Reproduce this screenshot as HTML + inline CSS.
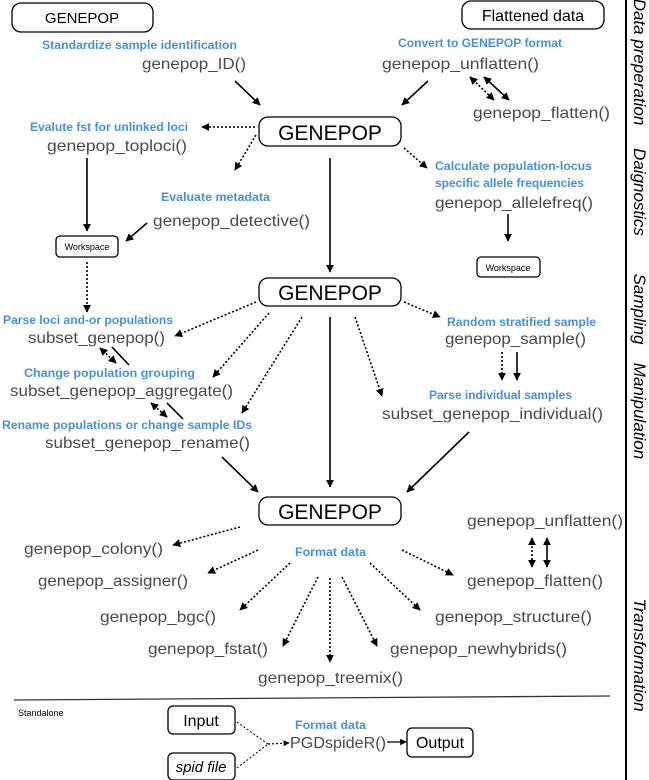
<!DOCTYPE html>
<html><head><meta charset="utf-8"><style>
html,body{margin:0;padding:0;background:#fff}
svg{display:block}
.g{font-family:"Liberation Sans",sans-serif;font-size:16px;fill:#4a4a4a}
.b{font-family:"Liberation Sans",sans-serif;font-size:12px;font-weight:bold;fill:#4a90d9}
.bx{fill:#fff;stroke:#000;stroke-width:1.3}
.k{font-family:"Liberation Sans",sans-serif;fill:#000}
.s{stroke:#000;stroke-width:1.6;fill:none}
.d{stroke:#000;stroke-width:1.6;fill:none;stroke-dasharray:2 2}
.r{font-family:"Liberation Sans",sans-serif;font-style:italic;font-size:17px;fill:#000}
</style></head><body>
<svg width="649" height="780" viewBox="0 0 649 780">
<defs>
<marker id="a" viewBox="0 0 10 10" refX="9" refY="5" markerWidth="5" markerHeight="5" orient="auto-start-reverse"><path d="M0,0L10,5L0,10z" fill="#000"/></marker>
</defs>
<!-- boxes -->
<g><rect class="bx" x="12" y="3" width="141" height="29" rx="9"/><text class="k" x="82" y="23" font-size="15" text-anchor="middle">GENEPOP</text></g>
<g><rect class="bx" x="462" y="1" width="142" height="28" rx="9"/><text class="k" x="533" y="21" font-size="16" text-anchor="middle">Flattened data</text></g>
<g><rect class="bx" x="259" y="117" width="142" height="29" rx="9"/><text class="k" x="330" y="140" font-size="21" text-anchor="middle">GENEPOP</text></g>
<g><rect class="bx" x="259" y="278" width="142" height="28" rx="9"/><text class="k" x="330" y="300" font-size="21" text-anchor="middle">GENEPOP</text></g>
<g><rect class="bx" x="259" y="497" width="142" height="28" rx="9"/><text class="k" x="330" y="519" font-size="21" text-anchor="middle">GENEPOP</text></g>
<g><rect class="bx" x="56" y="236" width="62" height="21" rx="4"/><text class="k" x="87" y="250" font-size="9" text-anchor="middle">Workspace</text></g>
<g><rect class="bx" x="477" y="257" width="63" height="20" rx="4"/><text class="k" x="508" y="271" font-size="9" text-anchor="middle">Workspace</text></g>
<g><rect class="bx" x="168" y="706" width="67" height="28" rx="5"/><text class="k" x="201" y="726" font-size="16" text-anchor="middle">Input</text></g>
<g><rect class="bx" x="168" y="753" width="67" height="27" rx="5"/><text class="k" x="201" y="772" font-size="15" font-style="italic" text-anchor="middle">spid file</text></g>
<g><rect class="bx" x="407" y="728" width="66" height="29" rx="5"/><text class="k" x="440" y="748" font-size="16" text-anchor="middle">Output</text></g>

<!-- blue labels -->
<text class="b" x="42" y="49" textLength="195" lengthAdjust="spacingAndGlyphs">Standardize sample identification</text>
<text class="b" x="398" y="47" textLength="164" lengthAdjust="spacingAndGlyphs">Convert to GENEPOP format</text>
<text class="b" x="30" y="131" textLength="158" lengthAdjust="spacingAndGlyphs">Evalute fst for unlinked loci</text>
<text class="b" x="161" y="201" textLength="109" lengthAdjust="spacingAndGlyphs">Evaluate metadata</text>
<text class="b" x="435" y="170" textLength="157" lengthAdjust="spacingAndGlyphs">Calculate population-locus</text>
<text class="b" x="435" y="187" textLength="149" lengthAdjust="spacingAndGlyphs">specific allele frequencies</text>
<text class="b" x="3" y="324" textLength="170" lengthAdjust="spacingAndGlyphs">Parse loci and-or populations</text>
<text class="b" x="24" y="377" textLength="171" lengthAdjust="spacingAndGlyphs">Change population grouping</text>
<text class="b" x="2" y="429" textLength="250" lengthAdjust="spacingAndGlyphs">Rename populations or change sample IDs</text>
<text class="b" x="447" y="326" textLength="149" lengthAdjust="spacingAndGlyphs">Random stratified sample</text>
<text class="b" x="429" y="399" textLength="143" lengthAdjust="spacingAndGlyphs">Parse individual samples</text>
<text class="b" x="295" y="556" textLength="71" lengthAdjust="spacingAndGlyphs">Format data</text>
<text class="b" x="295" y="729" textLength="71" lengthAdjust="spacingAndGlyphs">Format data</text>

<!-- gray function names -->
<text class="g" x="142" y="69" textLength="104" lengthAdjust="spacingAndGlyphs">genepop_ID()</text>
<text class="g" x="382" y="69" textLength="157" lengthAdjust="spacingAndGlyphs">genepop_unflatten()</text>
<text class="g" x="473" y="118" textLength="137" lengthAdjust="spacingAndGlyphs">genepop_flatten()</text>
<text class="g" x="47" y="151" textLength="140" lengthAdjust="spacingAndGlyphs">genepop_toploci()</text>
<text class="g" x="153" y="226" textLength="157" lengthAdjust="spacingAndGlyphs">genepop_detective()</text>
<text class="g" x="435" y="208" textLength="158" lengthAdjust="spacingAndGlyphs">genepop_allelefreq()</text>
<text class="g" x="28" y="343" textLength="137" lengthAdjust="spacingAndGlyphs">subset_genepop()</text>
<text class="g" x="10" y="396" textLength="223" lengthAdjust="spacingAndGlyphs">subset_genepop_aggregate()</text>
<text class="g" x="45" y="448" textLength="205" lengthAdjust="spacingAndGlyphs">subset_genepop_rename()</text>
<text class="g" x="445" y="344" textLength="141" lengthAdjust="spacingAndGlyphs">genepop_sample()</text>
<text class="g" x="382" y="419" textLength="221" lengthAdjust="spacingAndGlyphs">subset_genepop_individual()</text>
<text class="g" x="467" y="526" textLength="156" lengthAdjust="spacingAndGlyphs">genepop_unflatten()</text>
<text class="g" x="467" y="586" textLength="136" lengthAdjust="spacingAndGlyphs">genepop_flatten()</text>
<text class="g" x="24" y="554" textLength="139" lengthAdjust="spacingAndGlyphs">genepop_colony()</text>
<text class="g" x="38" y="586" textLength="150" lengthAdjust="spacingAndGlyphs">genepop_assigner()</text>
<text class="g" x="100" y="622" textLength="116" lengthAdjust="spacingAndGlyphs">genepop_bgc()</text>
<text class="g" x="148" y="654" textLength="120" lengthAdjust="spacingAndGlyphs">genepop_fstat()</text>
<text class="g" x="258" y="683" textLength="145" lengthAdjust="spacingAndGlyphs">genepop_treemix()</text>
<text class="g" x="390" y="654" textLength="177" lengthAdjust="spacingAndGlyphs">genepop_newhybrids()</text>
<text class="g" x="435" y="622" textLength="157" lengthAdjust="spacingAndGlyphs">genepop_structure()</text>
<text class="g" x="290" y="748" textLength="96" lengthAdjust="spacingAndGlyphs">PGDspideR()</text>
<text class="k" x="18" y="716" font-size="9">Standalone</text>

<!-- arrows -->
<g>
<line class="s" x1="235" y1="81" x2="260" y2="105" marker-end="url(#a)"/>
<line class="s" x1="428" y1="81" x2="402" y2="105" marker-end="url(#a)"/>
<line class="d" x1="470" y1="77" x2="494" y2="100" marker-start="url(#a)" marker-end="url(#a)"/>
<line class="s" x1="484" y1="77" x2="509" y2="100" marker-start="url(#a)" marker-end="url(#a)"/>
<line class="d" x1="255" y1="127" x2="202" y2="127" marker-end="url(#a)"/>
<line class="s" x1="87" y1="158" x2="87" y2="231" marker-end="url(#a)"/>
<line class="d" x1="256" y1="135" x2="235" y2="170" marker-end="url(#a)"/>
<line class="s" x1="147" y1="223" x2="126" y2="241" marker-end="url(#a)"/>
<line class="s" x1="330" y1="158" x2="330" y2="272" marker-end="url(#a)"/>
<line class="d" x1="404" y1="148" x2="427" y2="168" marker-end="url(#a)"/>
<line class="s" x1="508" y1="214" x2="508" y2="241" marker-end="url(#a)"/>
<line class="d" x1="87" y1="262" x2="87" y2="312" marker-end="url(#a)"/>
<line class="d" x1="256" y1="302" x2="175" y2="336" marker-end="url(#a)"/>
<line class="d" x1="100" y1="348" x2="116" y2="363" marker-start="url(#a)" marker-end="url(#a)"/>
<line class="s" x1="112" y1="347" x2="129" y2="365"/>
<line class="d" x1="269" y1="313" x2="213" y2="377" marker-end="url(#a)"/>
<line class="d" x1="151" y1="403" x2="167" y2="417" marker-start="url(#a)" marker-end="url(#a)"/>
<line class="s" x1="167" y1="403" x2="183" y2="419"/>
<line class="d" x1="302" y1="317" x2="242" y2="413" marker-end="url(#a)"/>
<line class="d" x1="355" y1="317" x2="382" y2="396" marker-end="url(#a)"/>
<line class="s" x1="330" y1="317" x2="330" y2="487" marker-end="url(#a)"/>
<line class="d" x1="404" y1="302" x2="440" y2="317" marker-end="url(#a)"/>
<line class="d" x1="502" y1="352" x2="502" y2="380" marker-end="url(#a)"/>
<line class="s" x1="517" y1="352" x2="517" y2="380" marker-end="url(#a)"/>
<line class="s" x1="469" y1="432" x2="407" y2="492" marker-end="url(#a)"/>
<line class="s" x1="222" y1="457" x2="258" y2="492" marker-end="url(#a)"/>
<line class="d" x1="532" y1="538" x2="532" y2="567" marker-start="url(#a)" marker-end="url(#a)"/>
<line class="s" x1="547" y1="538" x2="547" y2="567" marker-start="url(#a)" marker-end="url(#a)"/>
<line class="d" x1="240" y1="527" x2="173" y2="545" marker-end="url(#a)"/>
<line class="d" x1="258" y1="550" x2="208" y2="573" marker-end="url(#a)"/>
<line class="d" x1="290" y1="563" x2="240" y2="610" marker-end="url(#a)"/>
<line class="d" x1="318" y1="577" x2="283" y2="646" marker-end="url(#a)"/>
<line class="d" x1="330" y1="578" x2="330" y2="662" marker-end="url(#a)"/>
<line class="d" x1="342" y1="577" x2="377" y2="646" marker-end="url(#a)"/>
<line class="d" x1="370" y1="563" x2="420" y2="610" marker-end="url(#a)"/>
<line class="d" x1="402" y1="550" x2="453" y2="575" marker-end="url(#a)"/>
<line x1="237" y1="722" x2="268" y2="744" stroke="#000" stroke-width="1" stroke-dasharray="2 2"/>
<line x1="237" y1="768" x2="268" y2="744" stroke="#000" stroke-width="1" stroke-dasharray="2 2"/>
<line x1="268" y1="744" x2="289" y2="743" stroke="#000" stroke-width="1.2" stroke-dasharray="2 2" marker-end="url(#a)"/>
<line x1="387" y1="742" x2="406" y2="742" stroke="#000" stroke-width="1.3" marker-end="url(#a)"/>
</g>
<line x1="14" y1="700" x2="610" y2="696" stroke="#333" stroke-width="1.3"/>
<line x1="626" y1="0" x2="626" y2="780" stroke="#000" stroke-width="2"/>
<text class="r" transform="translate(634,62) rotate(90)" text-anchor="middle">Data preperation</text>
<text class="r" transform="translate(634,192) rotate(90)" text-anchor="middle">Daignostics</text>
<text class="r" transform="translate(634,309) rotate(90)" text-anchor="middle">Sampling</text>
<text class="r" transform="translate(634,411) rotate(90)" text-anchor="middle">Manipulation</text>
<text class="r" transform="translate(634,655) rotate(90)" text-anchor="middle">Transformation</text>
</svg>
</body></html>
